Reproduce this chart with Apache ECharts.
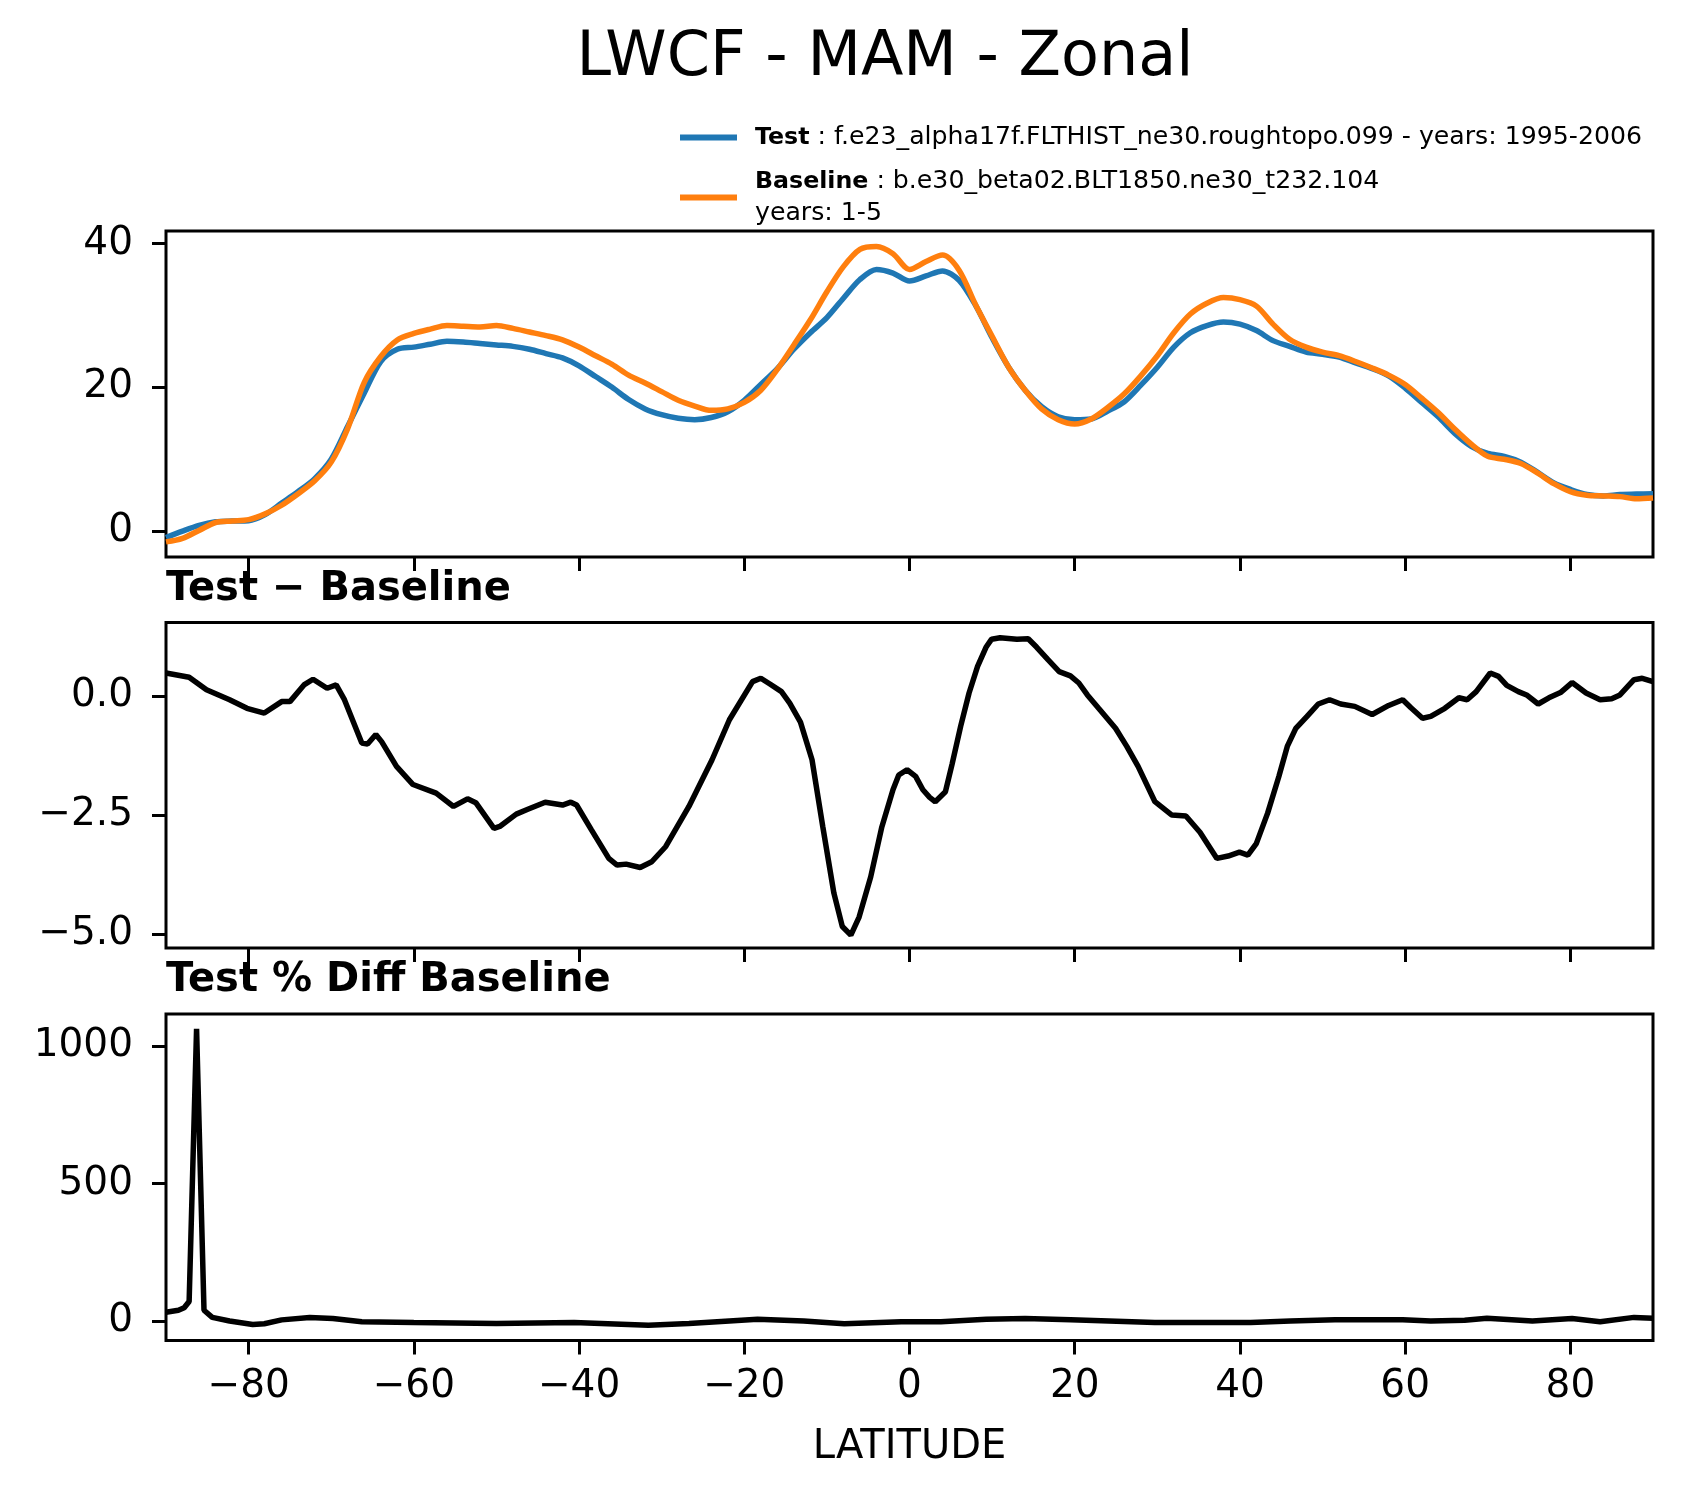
<!DOCTYPE html>
<html>
<head>
<meta charset="utf-8">
<script src="https://cdn.jsdelivr.net/npm/echarts@6/dist/echarts.min.js"></script>
<style>
html,body{margin:0;padding:0;background:#fff;}
#chart{width:1683px;height:1496px;}
</style>
</head>
<body>
<div id="chart"></div>
<script>
// ---- data ----
var lats = [-90,-88,-86,-84,-82,-80,-78,-76,-74,-72,-70,-68,-66,-64,-62,-60,-58,-56,-54,-52,-50,-48,-46,-44,-42,-40,-38,-36,-34,-32,-30,-28,-26,-24,-22,-20,-18,-16,-14,-12,-10,-8,-6,-4,-2,0,2,4,6,8,10,12,14,16,18,20,22,24,26,28,30,32,34,36,38,40,42,44,46,48,50,52,54,56,58,60,62,64,66,68,70,72,74,76,78,80,82,84,86,88,90];
var testVals = [-0.9,0.0,0.8,1.3,1.4,1.45,2.3,3.9,5.5,7.3,10.0,14.6,19.2,23.6,25.3,25.6,26.0,26.4,26.3,26.1,25.9,25.7,25.3,24.7,24.1,23.0,21.5,20.0,18.3,17.0,16.2,15.7,15.5,15.8,16.6,18.2,20.4,22.6,25.3,27.6,29.7,32.4,35.0,36.4,35.9,34.8,35.5,36.2,34.9,31.4,26.9,22.8,19.6,17.3,15.9,15.5,15.6,16.7,18.0,20.3,22.8,25.6,27.6,28.6,29.1,28.8,27.9,26.5,25.7,24.9,24.6,24.2,23.4,22.6,21.6,19.9,17.9,15.9,13.6,11.8,10.8,10.4,9.6,8.2,6.7,5.8,5.1,4.9,5.1,5.15,5.2];
var baseVals = [-1.5,-1.0,0.1,1.2,1.4,1.6,2.4,3.6,5.2,7.0,9.6,14.3,20.7,24.3,26.6,27.5,28.1,28.6,28.5,28.4,28.6,28.2,27.7,27.2,26.6,25.6,24.4,23.2,21.7,20.6,19.4,18.2,17.4,16.8,17.0,17.9,19.6,22.5,25.9,29.4,33.3,36.8,39.2,39.6,38.6,36.4,37.5,38.4,36.3,31.5,27.1,22.8,19.6,17.0,15.5,14.9,15.6,17.2,19.1,21.6,24.4,27.6,30.2,31.7,32.5,32.2,31.3,28.8,26.7,25.6,24.9,24.4,23.6,22.7,21.7,20.4,18.5,16.5,14.2,12.1,10.4,10.0,9.4,8.1,6.6,5.5,5.0,4.9,4.8,4.5,4.6];

var diffLats = [-90,-87.2,-85.1,-82.3,-80.2,-78.1,-76.0,-75.0,-73.3,-72.2,-70.5,-69.4,-68.4,-66.3,-65.6,-64.6,-63.9,-62.1,-60.1,-57.3,-55.2,-53.5,-52.5,-50.3,-49.6,-47.6,-46.2,-44.1,-42.0,-41.0,-40.3,-38.5,-36.4,-35.4,-34.3,-32.6,-31.2,-29.5,-26.7,-23.9,-21.8,-19.0,-18.0,-16.9,-15.5,-14.5,-13.2,-11.8,-10.5,-9.15,-8.13,-7.1,-6.1,-4.7,-3.35,-2.0,-1.3,-0.3,0.74,1.62,2.44,3.12,4.35,5.17,6.19,7.21,8.24,9.26,9.94,10.96,13.0,14.37,15.4,16.76,18.12,19.48,20.5,21.53,22.89,24.94,26.3,27.67,29.71,31.76,33.46,35.16,37.21,38.57,39.94,40.96,41.98,43.35,44.71,45.73,46.76,48.12,49.48,50.85,52.2,53.9,56.0,58.0,59.7,60.7,62.1,63.1,64.8,66.5,67.5,68.6,70.3,71.3,72.3,73.7,74.7,76.1,77.4,78.8,80.2,81.9,83.6,85.0,86.0,87.7,88.7,90.0];
var diffVals = [0.48,0.39,0.13,-0.08,-0.26,-0.36,-0.12,-0.12,0.23,0.35,0.16,0.23,-0.08,-0.99,-1.01,-0.81,-0.96,-1.48,-1.86,-2.04,-2.32,-2.16,-2.24,-2.78,-2.74,-2.48,-2.38,-2.23,-2.29,-2.23,-2.29,-2.81,-3.41,-3.55,-3.53,-3.6,-3.48,-3.16,-2.32,-1.34,-0.5,0.3,0.37,0.25,0.09,-0.15,-0.55,-1.34,-2.74,-4.14,-4.84,-5.02,-4.64,-3.8,-2.75,-1.97,-1.66,-1.55,-1.69,-1.97,-2.13,-2.22,-2.01,-1.42,-0.64,0.06,0.62,1.02,1.19,1.22,1.19,1.2,1.02,0.76,0.51,0.42,0.27,0.02,-0.26,-0.68,-1.06,-1.48,-2.22,-2.5,-2.52,-2.86,-3.41,-3.36,-3.28,-3.34,-3.1,-2.46,-1.69,-1.06,-0.68,-0.43,-0.17,-0.08,-0.17,-0.22,-0.39,-0.2,-0.08,-0.25,-0.47,-0.43,-0.26,-0.04,-0.08,0.09,0.48,0.41,0.22,0.09,0.02,-0.17,-0.04,0.07,0.28,0.06,-0.08,-0.06,0.02,0.34,0.37,0.3];

var pctLats = [-90,-88.5,-87.8,-87.2,-86.3,-85.4,-84.4,-82.3,-79.5,-78.1,-76,-72.6,-69.8,-66.3,-60,-50,-40.6,-31.6,-26.7,-18.4,-12.8,-7.9,-1,3.8,9.3,14,19.5,29.7,41.3,46.1,51.5,59.7,63.1,67.2,69.9,75.4,80.2,83.6,87.7,90];
var pctVals = [32,39,48,71,1062,39,13,0,-13,-10,4,13,9,-3,-6,-9,-6,-16,-9,6,0,-10,-3,-3,6.5,9,4,-6,-6,0,4,4,0,2.6,10,0,9,-3,13,10];

var xTicks = [-80,-60,-40,-20,0,20,40,60,80];
var yTicks1 = [0,20,40];
var yTicks2 = [-5,-2.5,0];
var yTicks3 = [0,500,1000];

// ---- chart ----
function pairs(xs, ys){ return xs.map(function(x,i){ return [x, ys[i]]; }); }
function minusFmt(v){ return (v < 0 ? '\u2212' : '') + Math.abs(v); }
function minusFmt1(v){ return (v < 0 ? '\u2212' : '') + Math.abs(v).toFixed(1); }

var FONT = 'DejaVu Sans';
var L = 166, W = 1487;
var grids = [
  {left: L, top: 231, width: W, height: 326},
  {left: L, top: 622.5, width: W, height: 325.5},
  {left: L, top: 1014, width: W, height: 326.5}
];
grids.forEach(function(g){ g.show = true; g.borderColor = '#000'; g.borderWidth = 3; g.backgroundColor = 'transparent'; });

function xAxisFor(i, showLabels){
  var ax = {
    type: 'value', gridIndex: i, min: -90, max: 90, position: 'bottom',
    splitLine: {show: false},
    axisLine: {show: false, onZero: false},
    axisTick: {show: true, inside: false, length: 14, customValues: xTicks, lineStyle: {color: '#000', width: 3}},
    axisLabel: {show: showLabels, customValues: xTicks, formatter: minusFmt, margin: 27,
      fontFamily: FONT, fontSize: 39, lineHeight: 39, color: '#000'}
  };
  if (showLabels) {
    ax.name = 'LATITUDE';
    ax.nameLocation = 'middle';
    ax.nameGap = 87;
    ax.nameTextStyle = {fontFamily: FONT, fontSize: 40, lineHeight: 40, color: '#000'};
  }
  return ax;
}
function yAxisFor(i, mn, mx, ticks, fmt){
  return {
    type: 'value', gridIndex: i, min: mn, max: mx, position: 'left',
    splitLine: {show: false},
    axisLine: {show: false, onZero: false},
    axisTick: {show: true, inside: false, length: 14, customValues: ticks, lineStyle: {color: '#000', width: 3}},
    axisLabel: {customValues: ticks, formatter: fmt, margin: 33,
      fontFamily: FONT, fontSize: 39, color: '#000'}
  };
}

var option = {
  animation: false,
  backgroundColor: '#fff',
  title: [
    {text: 'LWCF - MAM - Zonal', left: 885, textAlign: 'center', top: 28, padding: 0,
     textStyle: {fontFamily: FONT, fontSize: 62, lineHeight: 62, fontWeight: 'normal', color: '#000'}},
    {text: 'Test \u2212 Baseline', left: L, top: 570, padding: 0,
     textStyle: {fontFamily: FONT, fontSize: 40, lineHeight: 40, fontWeight: 'bold', color: '#000'}},
    {text: 'Test % Diff Baseline', left: L, top: 961, padding: 0,
     textStyle: {fontFamily: FONT, fontSize: 40, lineHeight: 40, fontWeight: 'bold', color: '#000'}}
  ],
  legend: {
    data: ['Test', 'Baseline'],
    orient: 'vertical', left: 680, top: 125, padding: 0,
    itemWidth: 57, itemHeight: 6, itemGap: 19, icon: 'rect',
    formatter: function(name){
      if (name === 'Test') return '{b|Test}{n| : f.e23_alpha17f.FLTHIST_ne30.roughtopo.099 - years: 1995-2006}';
      return '{b|Baseline}{n| : b.e30_beta02.BLT1850.ne30_t232.104}\n{n|years: 1-5}';
    },
    textStyle: {
      padding: [0, 0, 0, 13],
      rich: {
        b: {fontFamily: FONT, fontSize: 23.7, fontWeight: 'bold', lineHeight: 32, color: '#000'},
        n: {fontFamily: FONT, fontSize: 25.2, lineHeight: 32, color: '#000'}
      }
    }
  },
  grid: grids,
  xAxis: [xAxisFor(0, false), xAxisFor(1, false), xAxisFor(2, true)],
  yAxis: [
    yAxisFor(0, -3.6, 41.75, yTicks1, minusFmt),
    yAxisFor(1, -5.29, 1.54, yTicks2, minusFmt1),
    yAxisFor(2, -71, 1116, yTicks3, minusFmt)
  ],
  series: [
    {name: 'Test', type: 'line', xAxisIndex: 0, yAxisIndex: 0, data: pairs(lats, testVals), smooth: 0.3,
     showSymbol: false, color: '#1f77b4', lineStyle: {color: '#1f77b4', width: 5.5}, itemStyle: {color: '#1f77b4'}},
    {name: 'Baseline', type: 'line', xAxisIndex: 0, yAxisIndex: 0, data: pairs(lats, baseVals), smooth: 0.3,
     showSymbol: false, color: '#ff7f0e', lineStyle: {color: '#ff7f0e', width: 5.5}, itemStyle: {color: '#ff7f0e'}},
    {name: 'diff', type: 'line', xAxisIndex: 1, yAxisIndex: 1, data: pairs(diffLats, diffVals),
     showSymbol: false, lineStyle: {color: '#000', width: 5.5}, itemStyle: {color: '#000'}},
    {name: 'pct', type: 'line', xAxisIndex: 2, yAxisIndex: 2, data: pairs(pctLats, pctVals),
     showSymbol: false, lineStyle: {color: '#000', width: 5.5}, itemStyle: {color: '#000'}}
  ]
};

var chart = echarts.init(document.getElementById('chart'), null, {renderer: 'canvas'});
chart.setOption(option);
</script>
</body>
</html>
